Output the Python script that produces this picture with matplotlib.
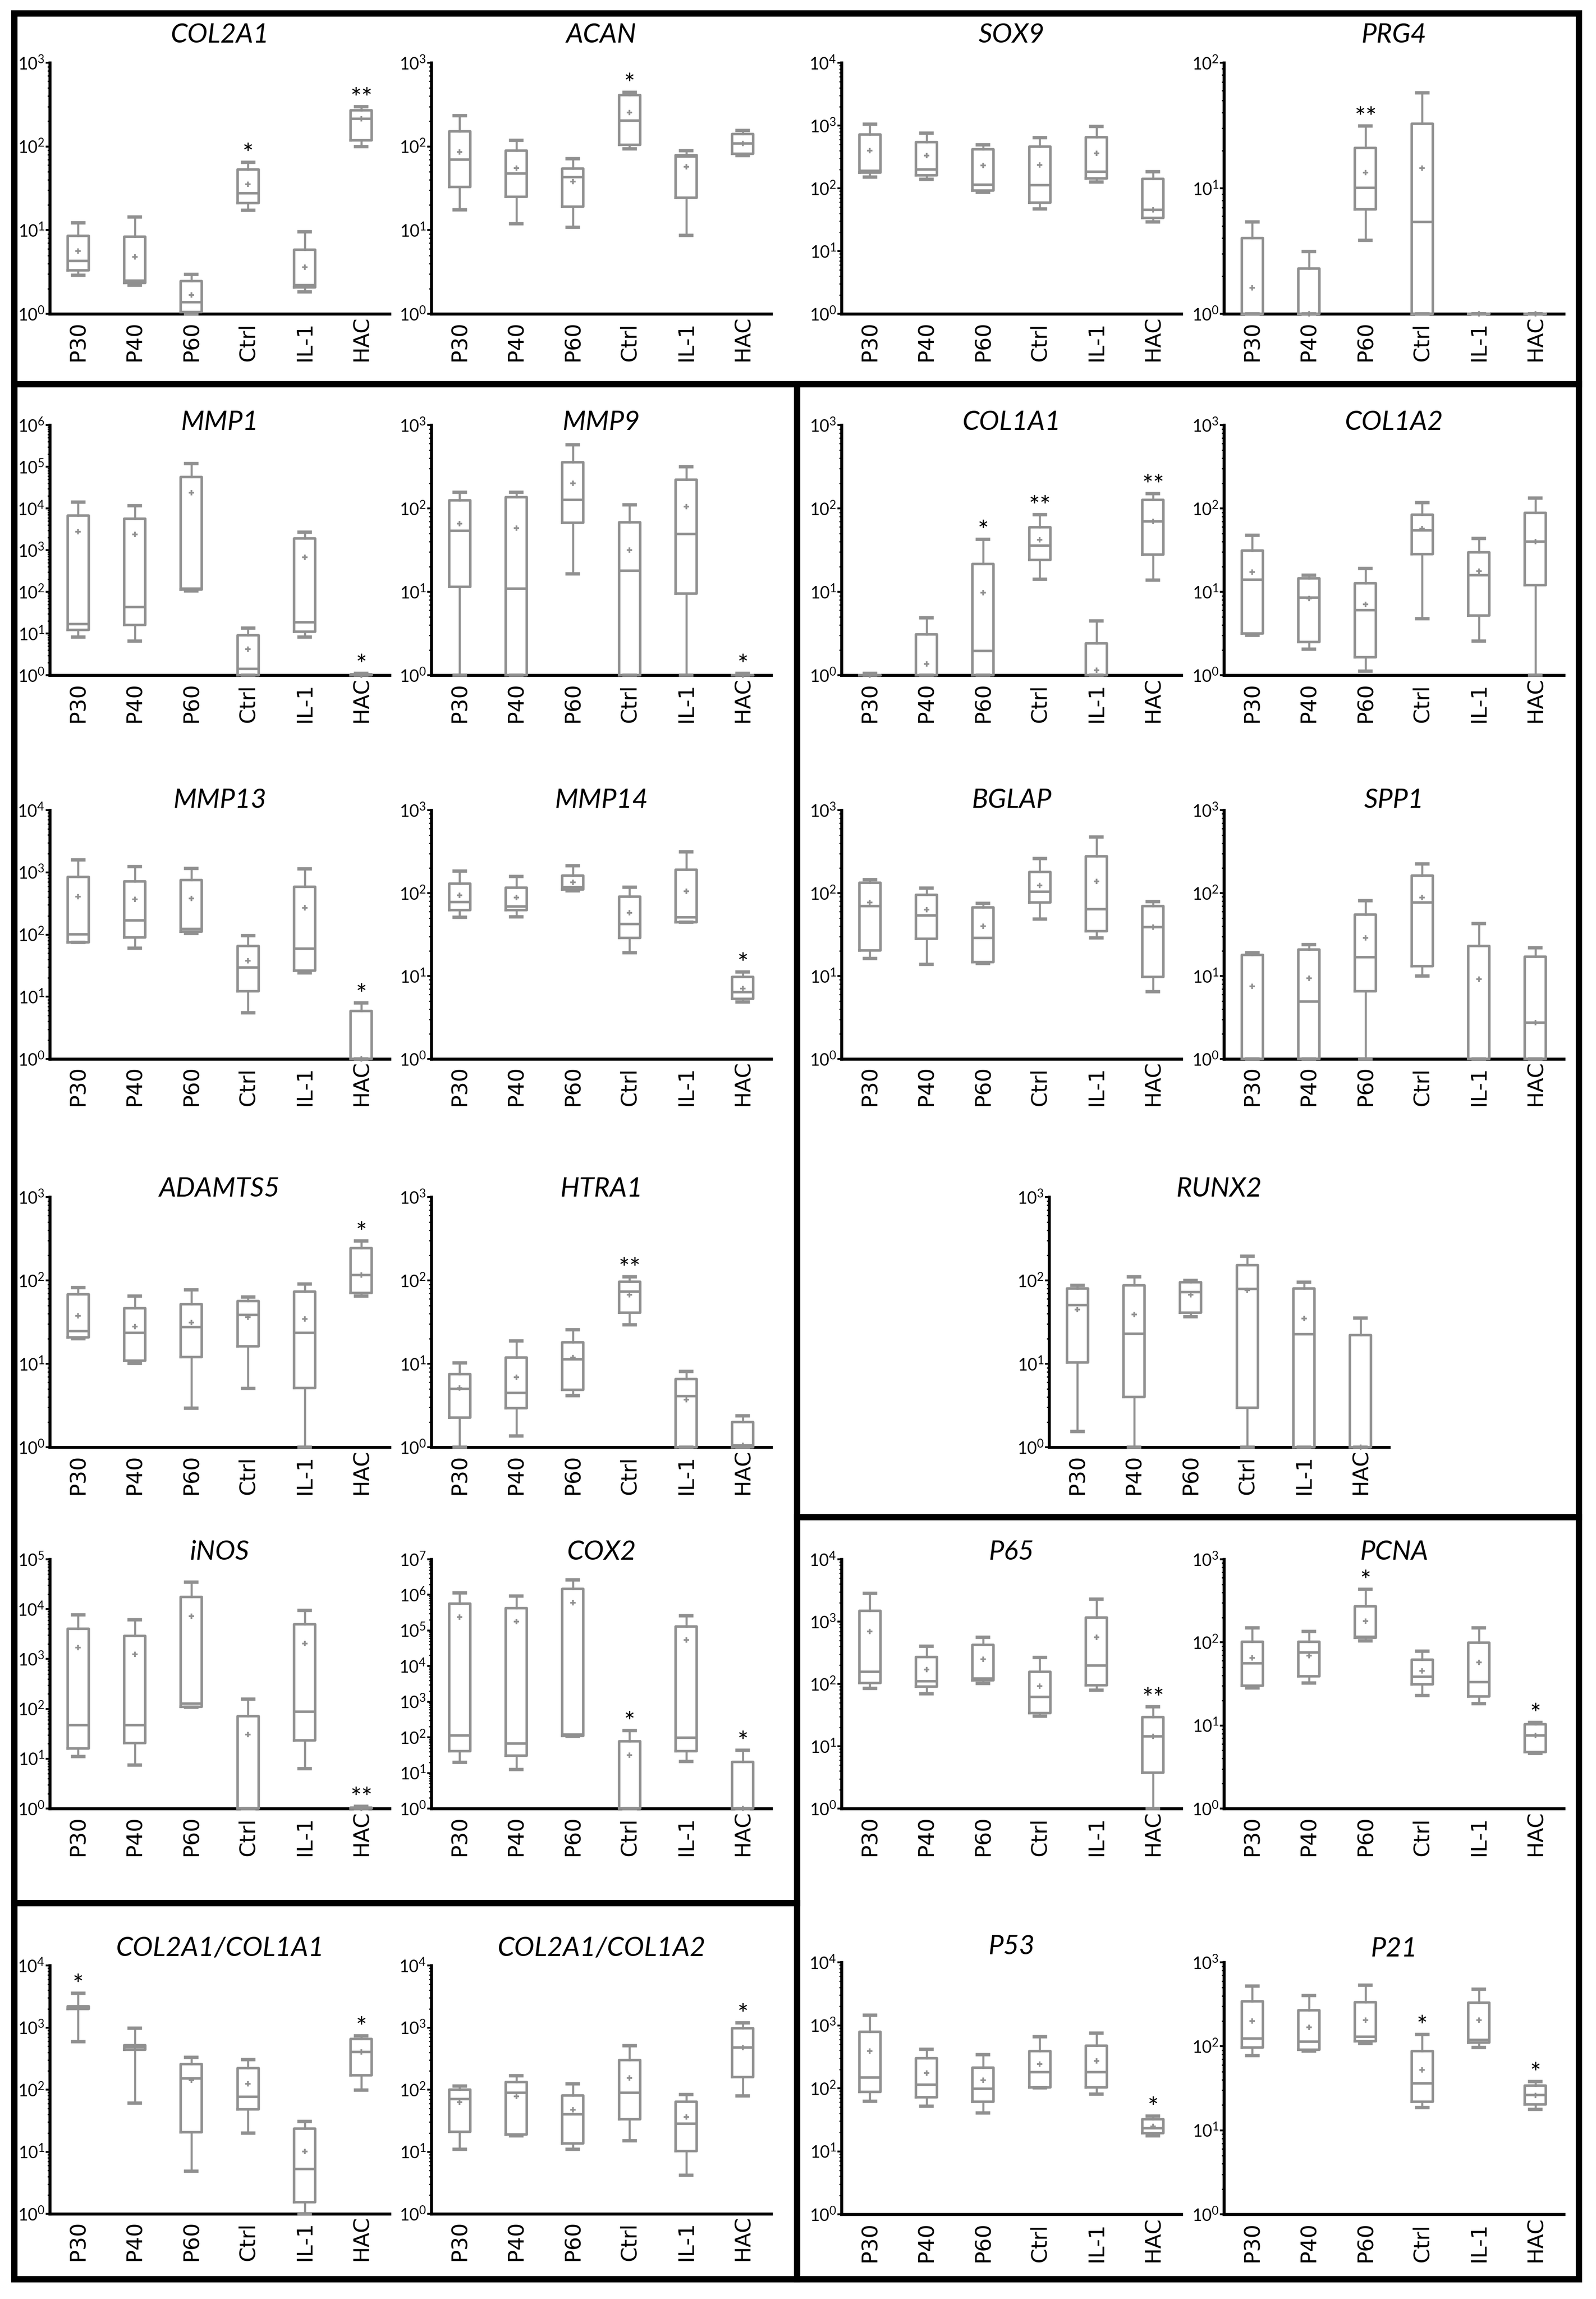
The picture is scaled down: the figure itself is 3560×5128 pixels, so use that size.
import numpy as np
import matplotlib
matplotlib.use("Agg")
import matplotlib.pyplot as plt
from matplotlib.lines import Line2D
from matplotlib.patches import Rectangle
from matplotlib.ticker import LogLocator, NullFormatter
import matplotlib.transforms as mtransforms

plt.rcParams['mathtext.fontset'] = 'custom'
plt.rcParams['mathtext.rm'] = 'Lato'
plt.rcParams['mathtext.default'] = 'rm'

cats = ["P30", "P40", "P60", "Ctrl", "IL-1", "HAC"]

# each group: (whisker low, q1, median, q3, whisker high, mean)
col2a1 = [(2.9, 3.3, 4.3, 8.6, 12.2, 5.6), (2.2, 2.35, 2.5, 8.3, 14.3, 4.8),
          (1.0, 1.05, 1.37, 2.46, 2.95, 1.68), (17.2, 21, 27.6, 53, 65, 35.5),
          (1.84, 2.06, 2.2, 5.8, 9.5, 3.6), (100, 118, 213, 272, 300, 213)]
col2a1_sig = ["", "", "", "*", "", "**"]

acan = [(17.4, 33, 70, 152, 234, 86), (12, 25, 47.6, 89, 119, 55),
        (10.8, 19, 43, 54.6, 71.6, 38), (94, 105, 203, 409, 445, 255),
        (8.7, 24.4, 76, 79, 89, 57), (78, 82, 108, 140, 155, 108)]
acan_sig = ["", "", "", "*", "", ""]

sox9 = [(151, 177, 190, 716, 1047, 398), (139, 161, 199, 548, 750, 331),
        (86, 91.5, 115, 417, 497, 232), (46.9, 58.6, 112, 465, 637, 235),
        (126, 143, 184, 653, 963, 363), (29, 33.9, 45.6, 141, 184, 45.6)]
sox9_sig = ["", "", "", "", "", ""]

prg4 = [(1, 1, 1, 4.0, 5.4, 1.61), (1, 1, 1, 2.3, 3.13, 1.0),
        (3.84, 6.8, 10.1, 20.9, 31.3, 13.3), (1, 1, 5.4, 32.8, 57.7, 14.5),
        (1, 1, 1, 1, 1, 1), (1, 1, 1, 1, 1, 1)]
prg4_sig = ["", "", "**", "", "", ""]

mmp1 = [(8.2, 12.2, 17, 6700, 14200, 2740), (6.5, 16.2, 43, 5700, 11700, 2400),
        (106, 114, 120, 56000, 120000, 24000), (1, 1, 1.41, 9.0, 13.5, 4.2),
        (8.2, 11, 18.6, 1900, 2680, 680), (1, 1, 1, 1.05, 1.1, 1)]
mmp1_sig = ["", "", "", "", "", "*"]

mmp9 = [(1, 11.5, 54, 125, 156, 66), (1, 1, 10.9, 136, 156, 57.7),
        (16.4, 67.5, 127, 356, 577, 199), (1, 1, 18, 68.5, 111, 31.8),
        (1, 9.5, 49.4, 220, 316, 105), (1, 1, 1, 1, 1.05, 1)]
mmp9_sig = ["", "", "", "", "", "*"]

col1a1 = [(1, 1, 1, 1, 1.05, 1), (1, 1, 1, 3.07, 4.86, 1.36),
          (1, 1, 1.95, 21.6, 42.4, 9.7), (14.1, 24, 35.6, 59.7, 84, 41.8),
          (1, 1, 1, 2.41, 4.5, 1.15), (13.8, 28, 69.5, 127, 151, 69.5)]
col1a1_sig = ["", "", "*", "**", "", "**"]

col1a2 = [(3.0, 3.15, 14, 31.3, 47.6, 17.3), (2.06, 2.5, 8.5, 14.5, 15.8, 8.3),
          (1.12, 1.64, 6.0, 12.7, 19, 7.1), (4.76, 28.4, 54.6, 84, 117, 57),
          (2.56, 5.2, 15.8, 29.8, 43.8, 17.6), (1, 12, 40, 88, 133, 40)]
col1a2_sig = ["", "", "", "", "", ""]

mmp13 = [(75, 75, 101, 841, 1590, 405), (60, 90.5, 168, 714, 1235, 370),
         (104, 112, 124, 745, 1150, 378), (5.5, 12.2, 29.5, 66, 96, 38),
         (24, 26.5, 59, 585, 1130, 270), (1, 1, 1, 5.9, 7.95, 1.0)]
mmp13_sig = ["", "", "", "", "", "*"]

mmp14 = [(51, 62.5, 78, 130, 183, 94), (52, 62.5, 69, 116, 159, 88),
         (106, 110, 118, 163, 213, 135), (19, 28.8, 42.4, 91, 118, 57.6),
         (44.5, 44.5, 51, 190, 316, 105), (4.86, 5.3, 6.4, 9.7, 11.2, 7.1)]
mmp14_sig = ["", "", "", "", "", "*"]

bglap = [(16.3, 20.4, 70, 133, 146, 77), (13.9, 28.2, 54, 95, 114, 63),
         (14.2, 14.7, 28.7, 67, 75, 39.6), (48.7, 77, 103.5, 179, 261, 124),
         (28.7, 34.6, 64, 276, 474, 139), (6.45, 9.7, 38.8, 70, 78.6, 38.8)]
bglap_sig = ["", "", "", "", "", ""]

spp1 = [(1, 1, 1, 18, 19.2, 7.5), (1, 1, 4.9, 20.9, 24, 9.4),
        (1, 6.55, 16.8, 55, 81, 28.8), (10, 13.1, 76.6, 162, 224, 88),
        (1, 1, 1, 22.9, 42.8, 9.2), (1, 1, 2.75, 17, 21.9, 2.75)]
spp1_sig = ["", "", "", "", "", ""]

adamts5 = [(20, 20.8, 24.8, 67.8, 82.4, 37.5), (10.1, 10.9, 23.4, 46.2, 64.7, 27.9),
           (2.94, 12.0, 27.5, 52, 77.3, 31.4), (5.06, 16.2, 38.7, 56.3, 63.3, 36.3),
           (1, 5.13, 23.4, 73.3, 91, 34.4), (64.6, 70.8, 116, 244, 297, 116)]
adamts5_sig = ["", "", "", "", "", "*"]

htra1 = [(1, 2.27, 4.97, 7.5, 10.2, 5.1), (1.37, 2.94, 4.5, 11.9, 18.8, 6.9),
         (4.17, 4.88, 11.3, 18.2, 25.5, 11.9), (29.5, 41, 73.8, 96.6, 111, 66.9),
         (1, 1, 4.08, 6.55, 8.1, 3.7), (1, 1, 1.05, 2.01, 2.37, 1.05)]
htra1_sig = ["", "", "", "**", "", ""]

runx2 = [(1.55, 10.4, 50.8, 79.8, 87, 45), (1, 4.0, 23, 87, 110, 38.9),
         (36.5, 40.9, 72.8, 94.7, 100, 66.9), (1, 2.98, 78.8, 152, 195, 76),
         (1, 1, 22.7, 79.8, 94.6, 34.8), (1, 1, 1, 22, 35.4, 1)]
runx2_sig = ["", "", "", "", "", ""]

inos = [(11, 16, 46.6, 4020, 7700, 1690), (7.5, 20.5, 46.6, 2920, 6120, 1240),
        (107, 111, 127, 17500, 35000, 7270), (1, 1, 1, 71.8, 156, 30.5),
        (6.3, 23.5, 87.5, 4990, 9440, 2030), (1, 1, 1, 1.05, 1.1, 1)]
inos_sig = ["", "", "", "", "", "**"]

cox2 = [(19.6, 40.5, 113, 5.7e5, 1.15e6, 2.4e5), (12.5, 30.4, 67.8, 4.2e5, 9.4e5, 1.8e5),
        (105, 110, 119, 1.46e6, 2.65e6, 6.0e5), (1, 1, 1, 77, 156, 31.3),
        (21, 40.5, 96.5, 1.3e5, 2.6e5, 5.4e4), (1, 1, 1, 20.3, 43.9, 1)]
cox2_sig = ["", "", "", "*", "", "*"]

p65 = [(85, 104, 157, 1480, 2840, 696), (69, 90.5, 111, 271, 404, 171),
       (102, 115, 122, 426, 560, 248), (30.5, 34.3, 61.8, 157, 264, 91.5),
       (79.5, 95.6, 197, 1156, 2280, 560), (1, 3.79, 14.5, 29.4, 43, 14.5)]
p65_sig = ["", "", "", "", "", "**"]

pcna = [(28.2, 30.2, 56, 102, 150, 65), (32.3, 39, 75.9, 102, 135, 69.5),
        (104, 114, 117, 270, 434, 180), (23, 31.2, 38.5, 61.5, 78.5, 45.3),
        (18.3, 22.2, 33.4, 99.6, 150, 57.5), (4.6, 4.76, 7.55, 10.4, 10.9, 7.55)]
pcna_sig = ["", "", "*", "", "", "*"]

ratio_1a1 = [(593, 1990, 2100, 2190, 3590, 2100), (61, 440, 483, 516, 972, 483),
             (4.88, 20.7, 151, 256, 333, 141), (19.9, 48.3, 76.3, 223, 303, 125),
             (1, 1.53, 5.26, 23.4, 30.9, 10.1), (99, 169, 401, 651, 735, 401)]
ratio_1a1_sig = ["*", "", "", "", "", "*"]

ratio_1a2 = [(10.9, 20.8, 70.8, 100, 115, 62.7), (18.1, 19.1, 88.5, 132, 167, 77.7),
             (10.9, 13.7, 40.4, 80.7, 124, 47.4), (15, 33.2, 88.5, 301, 513, 155),
             (4.17, 10.3, 28.3, 63.9, 83, 36.5), (79, 160, 481, 968, 1190, 481)]
ratio_1a2_sig = ["", "", "", "", "", "*"]

p53 = [(62.3, 88.3, 149, 786, 1455, 391), (51.9, 72.2, 114, 300, 413, 176),
       (40.5, 61.2, 98.6, 211, 341, 134), (101, 104, 179, 391, 654, 243),
       (80.5, 104, 179, 474, 750, 271), (17.7, 19.4, 23.3, 32.2, 36.3, 25)]
p53_sig = ["", "", "", "", "", "*"]

p21 = [(78, 97, 124, 345, 521, 201), (87.5, 91.2, 113.6, 268, 404, 169),
       (108, 115, 130, 333, 532, 206), (18.7, 21.9, 36.1, 88.2, 138, 52.3),
       (97, 111, 120, 329, 480, 204), (17.8, 20.2, 26.4, 34.2, 37.9, 26)]
p21_sig = ["", "", "", "*", "", "*"]

W, H = 3560, 5128
GRAY = "#909090"
AXW = 758

# column left edges and row (top, bottom) in pixels
colA, colB, colC, colD, colR = 111, 962, 1877, 2730, 2340
row1, row2, row3 = (140, 700), (948, 1506), (1807, 2362)
row4, row5 = (2670, 3228), (3478, 4034)
row6L, row6R = (4384, 4938), (4377, 4939)

panels = [
    ("COL2A1", col2a1, col2a1_sig, 3, colA, row1, 62),
    ("ACAN", acan, acan_sig, 3, colB, row1, 62),
    ("SOX9", sox9, sox9_sig, 4, colC, row1, 62),
    ("PRG4", prg4, prg4_sig, 2, colD, row1, 62),
    ("MMP1", mmp1, mmp1_sig, 6, colA, row2, 6),
    ("MMP9", mmp9, mmp9_sig, 3, colB, row2, 6),
    ("COL1A1", col1a1, col1a1_sig, 3, colC, row2, 6),
    ("COL1A2", col1a2, col1a2_sig, 3, colD, row2, 6),
    ("MMP13", mmp13, mmp13_sig, 4, colA, row3, 22),
    ("MMP14", mmp14, mmp14_sig, 3, colB, row3, 22),
    ("BGLAP", bglap, bglap_sig, 3, colC, row3, 22),
    ("SPP1", spp1, spp1_sig, 3, colD, row3, 22),
    ("ADAMTS5", adamts5, adamts5_sig, 3, colA, row4, 18),
    ("HTRA1", htra1, htra1_sig, 3, colB, row4, 18),
    ("RUNX2", runx2, runx2_sig, 3, colR, row4, 18),
    ("iNOS", inos, inos_sig, 5, colA, row5, 16),
    ("COX2", cox2, cox2_sig, 7, colB, row5, 16),
    ("P65", p65, p65_sig, 4, colC, row5, 16),
    ("PCNA", pcna, pcna_sig, 3, colD, row5, 16),
    ("COL2A1/COL1A1", ratio_1a1, ratio_1a1_sig, 4, colA, row6L, 38),
    ("COL2A1/COL1A2", ratio_1a2, ratio_1a2_sig, 4, colB, row6L, 38),
    ("P53", p53, p53_sig, 4, colC, row6R, 35),
    ("P21", p21, p21_sig, 3, colD, row6R, 30),
]

fig = plt.figure(figsize=(W / 300, H / 300), dpi=300)


def draw_panel(name, groups, sig, top_exp, left, rows, title_off):
    top, bottom = rows
    ax = fig.add_axes([left / W, 1 - bottom / H, AXW / W, (bottom - top) / H])
    stats = []
    for lo, q1, med, q3, hi, mean in groups:
        stats.append(dict(whislo=lo, q1=q1, med=med, q3=q3, whishi=hi,
                          mean=mean, fliers=[]))
    ax.bxp(stats, positions=range(1, 7), widths=0.37, capwidths=0.2,
           showmeans=True, showfliers=False, manage_ticks=False, zorder=3,
           boxprops=dict(color=GRAY, lw=1.35, clip_on=False),
           whiskerprops=dict(color=GRAY, lw=1.1, clip_on=False),
           capprops=dict(color=GRAY, lw=1.8, clip_on=False),
           medianprops=dict(color=GRAY, lw=1.35, clip_on=False),
           meanprops=dict(marker="+", markersize=3, markeredgewidth=0.9,
                          markeredgecolor=GRAY, clip_on=False))
    ax.set_yscale("log")
    ax.set_ylim(1, 10 ** top_exp)
    ax.set_xlim(0.5, 6.5)
    ax.set_xticks([])
    ax.set_yticks([10.0 ** k for k in range(top_exp + 1)])
    ax.set_yticklabels([r"$10^{%d}$" % k for k in range(top_exp + 1)])
    ax.yaxis.set_minor_locator(LogLocator(base=10, subs=np.arange(2, 10), numticks=100))
    ax.yaxis.set_minor_formatter(NullFormatter())
    ax.tick_params(axis="y", which="major", length=2.2, width=1.0, pad=0.5,
                   labelsize=9, colors="black")
    ax.tick_params(axis="y", which="minor", length=1.3, width=0.7)
    for s in ("top", "right"):
        ax.spines[s].set_visible(False)
    for s in ("left", "bottom"):
        ax.spines[s].set_linewidth(1.6)
        ax.spines[s].set_color("black")
    trans = mtransforms.blended_transform_factory(ax.transData, ax.transAxes)
    for i, c in enumerate(cats):
        ax.text(i + 1, -0.19, c, transform=trans, rotation=90,
                rotation_mode="anchor", ha="left", va="center",
                fontsize=11.5, family="DejaVu Sans", color="black")
    for i, s in enumerate(sig):
        if s:
            ax.annotate(s, xy=(i + 1, groups[i][4]), xytext=(0, 0),
                        textcoords="offset points", ha="center", va="baseline",
                        fontsize=14, family="Lato", annotation_clip=False)
    ax.text(0.5, 1 + title_off / (bottom - top), name, transform=ax.transAxes,
            ha="center", va="center", fontsize=14.5, family="Lato", style="italic")
    return ax


for p in panels:
    draw_panel(*p)

# frame and dividers
LW = 3.4
fig.add_artist(Rectangle((32 / W, 1 - 5084 / H), (3522 - 32) / W, (5084 - 30) / H,
                         transform=fig.transFigure, fill=False, lw=LW, color="black"))


def hline(y, x0, x1):
    fig.add_artist(Line2D([x0 / W, x1 / W], [1 - y / H, 1 - y / H],
                          transform=fig.transFigure, lw=LW, color="black"))


def vline(x, y0, y1):
    fig.add_artist(Line2D([x / W, x / W], [1 - y0 / H, 1 - y1 / H],
                          transform=fig.transFigure, lw=LW, color="black"))


hline(857, 32, 3522)
vline(1778, 857, 5084)
hline(4245, 32, 1778)
hline(3384, 1778, 3522)

fig.savefig("out.png", dpi=300)
